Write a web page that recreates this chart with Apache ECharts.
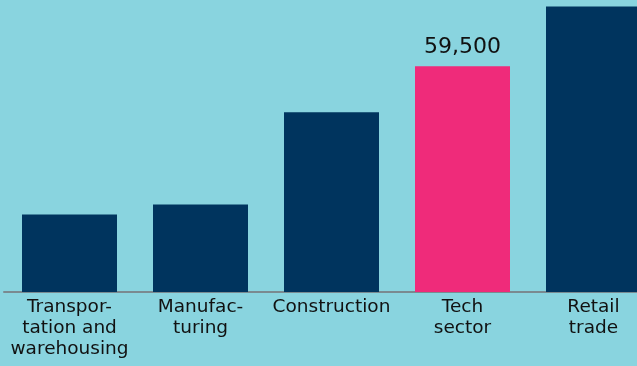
<!DOCTYPE html>
<html>
<head>
<meta charset="utf-8">
<script src="https://cdn.jsdelivr.net/npm/echarts@6/dist/echarts.min.js"></script>
<style>
  html, body { margin: 0; padding: 0; background: #89d4df; }
  #chart { width: 637px; height: 366px; }
</style>
</head>
<body>
<div id="chart"></div>
<script>
// Employment by sector
const categories = [
  'Transpor-\ntation and\nwarehousing',
  'Manufac-\nturing',
  'Construction',
  'Tech\nsector',
  'Retail\ntrade'
];
const values = [20450, 23100, 47400, 59500, 75300];
const highlighted = ['Tech\nsector'];

const NAVY = '#00345e';
const PINK = '#ef2b7a';

const chart = echarts.init(document.getElementById('chart'));
chart.setOption({
  backgroundColor: '#89d4df',
  animation: false,
  // the last column runs past the right edge of the canvas
  grid: { left: 4, width: 655, top: 0, bottom: 74, outerBoundsMode: 'none' },
  xAxis: {
    type: 'category',
    data: categories,
    axisLine: { show: true, lineStyle: { color: '#7a8a90', width: 2 } },
    axisTick: { show: false },
    axisLabel: {
      color: '#111',
      fontFamily: 'DejaVu Sans',
      fontSize: 18.5,
      lineHeight: 21,
      margin: 5,
      interval: 0
    }
  },
  yAxis: {
    type: 'value',
    min: 0,
    max: 77000,
    show: false,
    splitLine: { show: false }
  },
  series: [{
    type: 'bar',
    barWidth: 95,
    data: values.map((v, i) => {
      const hot = highlighted.includes(categories[i]);
      return {
        value: v,
        itemStyle: { color: hot ? PINK : NAVY },
        label: hot ? {
          show: true,
          position: 'top',
          distance: 8,
          formatter: p => p.value.toLocaleString('en-US'),
          color: '#111',
          fontFamily: 'DejaVu Sans',
          fontSize: 22
        } : { show: false }
      };
    })
  }]
});
</script>
</body>
</html>
